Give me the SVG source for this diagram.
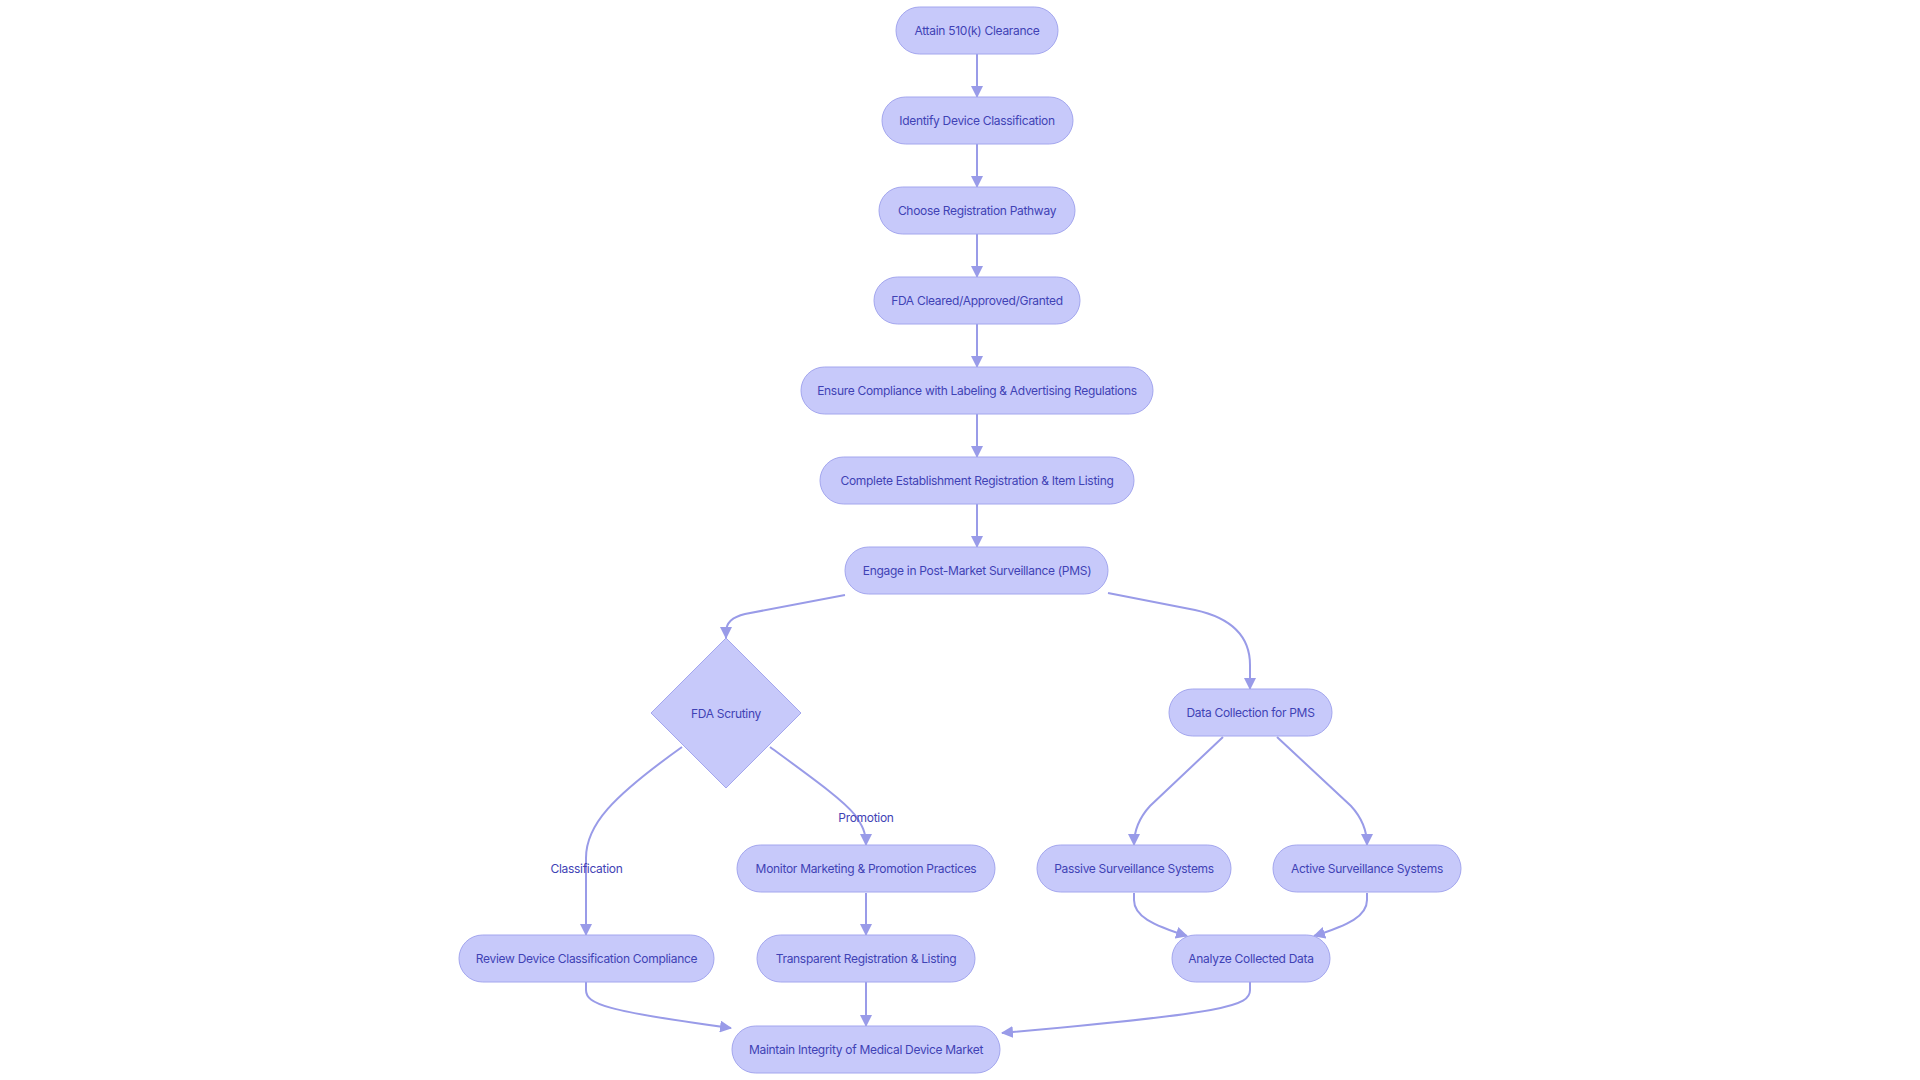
<svg xmlns="http://www.w3.org/2000/svg" width="1920" height="1080" viewBox="0 0 1920 1080">
<style>
.n{fill:#c7c9fa;stroke:#a3a6ee;stroke-width:1}
.t{font-family:Inter,"Liberation Sans",sans-serif;font-size:12px;fill:#3f42b5;text-anchor:middle;dominant-baseline:central;letter-spacing:-0.3px}
.e{fill:none;stroke:#999be8;stroke-width:2}
.l{font-family:Inter,"Liberation Sans",sans-serif;font-size:12px;fill:#3f42b5;text-anchor:middle;dominant-baseline:central;letter-spacing:-0.3px}
</style>
<defs>
<marker id="ah" markerUnits="userSpaceOnUse" markerWidth="12" markerHeight="12" viewBox="0 0 12 12" refX="11" refY="6" orient="auto">
<path d="M0,0 L12,6 L0,12 z" fill="#999be8"/>
</marker>
</defs>
<rect width="1920" height="1080" fill="#ffffff"/>
<g id="edges">
<path class="e" marker-end="url(#ah)" d="M977,54 L977,97"/>
<path class="e" marker-end="url(#ah)" d="M977,144 L977,187"/>
<path class="e" marker-end="url(#ah)" d="M977,234 L977,277"/>
<path class="e" marker-end="url(#ah)" d="M977,324 L977,367"/>
<path class="e" marker-end="url(#ah)" d="M977,414 L977,457"/>
<path class="e" marker-end="url(#ah)" d="M977,504 L977,547"/>
<path class="e" marker-end="url(#ah)" d="M845,595 L745,614 C732,617 726,624 726,632 L726,638"/>
<path class="e" marker-end="url(#ah)" d="M1108,593 L1195,610 C1236,619 1250,640 1250,665 L1250,689"/>
<path class="e" marker-end="url(#ah)" d="M682,747 C612,797 586,825 586,858 L586,935"/>
<path class="e" marker-end="url(#ah)" d="M770,747 C815,780 843,800 855,815 C862,825 866,832 866,845"/>
<path class="e" marker-end="url(#ah)" d="M1223,737 L1150,806 C1139,818 1134,830 1134,845"/>
<path class="e" marker-end="url(#ah)" d="M1277,737 L1351,806 C1362,818 1367,830 1367,845"/>
<path class="e" marker-end="url(#ah)" d="M866,893 L866,935"/>
<path class="e" marker-end="url(#ah)" d="M1134,893 L1134,900 C1134,916 1152,925 1187,936"/>
<path class="e" marker-end="url(#ah)" d="M1367,893 L1367,900 C1367,916 1349,925 1314,936"/>
<path class="e" marker-end="url(#ah)" d="M586,982 L586,990 C586,1004 605,1011 731,1028"/>
<path class="e" marker-end="url(#ah)" d="M866,982 L866,1026"/>
<path class="e" marker-end="url(#ah)" d="M1250,982 L1250,990 C1250,1006 1228,1013 1002,1033"/>
<text class="l" x="586.5" y="868">Classification</text>
<text class="l" x="866" y="817">Promotion</text>
</g>
<g id="n1"><rect class="n" x="896" y="7" width="162" height="47" rx="23.5"/><text class="t" x="977" y="30.5">Attain 510(k) Clearance</text></g>
<g id="n2"><rect class="n" x="882" y="97" width="191" height="47" rx="23.5"/><text class="t" x="977" y="120.5">Identify Device Classification</text></g>
<g id="n3"><rect class="n" x="879" y="187" width="196" height="47" rx="23.5"/><text class="t" x="977" y="210.5">Choose Registration Pathway</text></g>
<g id="n4"><rect class="n" x="874" y="277" width="206" height="47" rx="23.5"/><text class="t" x="977" y="300.5">FDA Cleared/Approved/Granted</text></g>
<g id="n5"><rect class="n" x="801" y="367" width="352" height="47" rx="23.5"/><text class="t" x="977" y="390.5">Ensure Compliance with Labeling &amp; Advertising Regulations</text></g>
<g id="n6"><rect class="n" x="820" y="457" width="314" height="47" rx="23.5"/><text class="t" x="977" y="480.5">Complete Establishment Registration &amp; Item Listing</text></g>
<g id="n7"><rect class="n" x="845" y="547" width="263" height="47" rx="23.5"/><text class="t" x="977" y="570.5">Engage in Post-Market Surveillance (PMS)</text></g>
<g id="n8"><polygon class="n" points="726,638 801,713 726,788 651,713"/><text class="t" x="726" y="713">FDA Scrutiny</text></g>
<g id="n9"><rect class="n" x="1169" y="689" width="163" height="47" rx="23.5"/><text class="t" x="1250.5" y="712.5">Data Collection for PMS</text></g>
<g id="n10"><rect class="n" x="737" y="845" width="258" height="47" rx="23.5"/><text class="t" x="866" y="868.5">Monitor Marketing &amp; Promotion Practices</text></g>
<g id="n11"><rect class="n" x="1037" y="845" width="194" height="47" rx="23.5"/><text class="t" x="1134" y="868.5">Passive Surveillance Systems</text></g>
<g id="n12"><rect class="n" x="1273" y="845" width="188" height="47" rx="23.5"/><text class="t" x="1367" y="868.5">Active Surveillance Systems</text></g>
<g id="n13"><rect class="n" x="459" y="935" width="255" height="47" rx="23.5"/><text class="t" x="586.5" y="958.5">Review Device Classification Compliance</text></g>
<g id="n14"><rect class="n" x="757" y="935" width="218" height="47" rx="23.5"/><text class="t" x="866" y="958.5">Transparent Registration &amp; Listing</text></g>
<g id="n15"><rect class="n" x="1172" y="935" width="158" height="47" rx="23.5"/><text class="t" x="1251" y="958.5">Analyze Collected Data</text></g>
<g id="n16"><rect class="n" x="732" y="1026" width="268" height="47" rx="23.5"/><text class="t" x="866" y="1049.5">Maintain Integrity of Medical Device Market</text></g>
</svg>
